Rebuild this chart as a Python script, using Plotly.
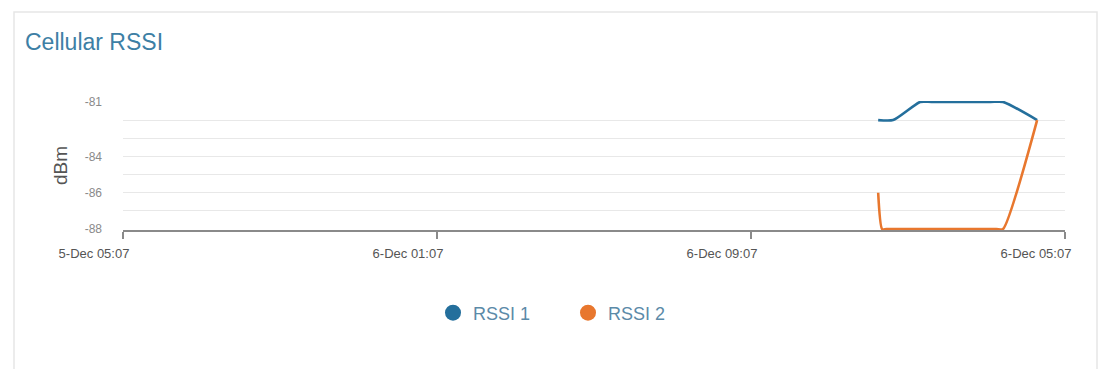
import plotly.graph_objects as go

# Hours elapsed since the start of the 24 h window, with RSSI readings in dBm
rssi1_hours = [19.24, 19.62, 20.31, 20.6, 22.1, 22.42, 23.29]
rssi1_dbm = [-82, -82, -81, -81, -81, -81, -82]

rssi2_hours = [19.24, 19.34, 19.45, 22.25, 22.42, 23.29]
rssi2_dbm = [-86, -88, -88, -88, -88, -82]

series_names = ["RSSI 1", "RSSI 2"]
series_colors = ["#246f9c", "#e8772e"]

# Axis ticks
x_tick_hours = [0, 8, 16, 24]
x_tick_labels = ["5-Dec 05:07", "6-Dec 01:07", "6-Dec 09:07", "6-Dec 05:07"]
y_tick_values = [-81, -82, -83, -84, -85, -86, -87, -88]
y_tick_labels = ["-81", "", "", "-84", "", "-86", "", "-88"]

W, H = 1102, 369
L, R, T, B = 123, W - 1065, 101, H - 230

fig = go.Figure()

for name, color, xs, ys in [
    (series_names[0], series_colors[0], rssi1_hours, rssi1_dbm),
    (series_names[1], series_colors[1], rssi2_hours, rssi2_dbm),
]:
    fig.add_trace(go.Scatter(
        x=xs, y=ys, mode="lines", name=name, legendgroup=name,
        showlegend=False,
        line=dict(color=color, width=2.6, shape="spline", smoothing=0.6),
        hovertemplate="%{y} dBm<extra>" + name + "</extra>",
    ))
    # legend entry drawn as a round marker
    fig.add_trace(go.Scatter(
        x=[None], y=[None], mode="markers", name=name, legendgroup=name,
        marker=dict(color=color, size=16, symbol="circle"),
    ))

PW, PH = W - L - R, H - T - B

# card outline
fig.add_shape(type="rect", xref="paper", yref="paper",
              x0=(14 - L) / PW, x1=(1097 - L) / PW,
              y0=(H - B - 400) / PH, y1=(H - B - 12) / PH,
              line=dict(color="#e6e6e6", width=1.5), fillcolor="rgba(0,0,0,0)",
              layer="below")

fig.update_layout(
    width=W, height=H,
    margin=dict(l=L, r=R, t=T, b=B, pad=0),
    paper_bgcolor="white", plot_bgcolor="white",
    font=dict(family="Liberation Sans, Arial, sans-serif", color="#666"),
    title=dict(text="Cellular RSSI", x=25 / W, xanchor="left", xref="container",
               y=1 - 42 / H, yanchor="middle", yref="container",
               font=dict(size=23, color="#3d7fa5")),
    showlegend=True,
    legend=dict(orientation="h", xref="paper", yref="paper",
                x=(433 - L) / PW, xanchor="left",
                y=(230 - 313) / PH, yanchor="middle",
                font=dict(size=18, color="#5b8aa8"),
                itemwidth=30, entrywidth=90, tracegroupgap=0,
                bgcolor="rgba(0,0,0,0)"),
    xaxis=dict(
        range=[0, 24], tickmode="array", tickvals=x_tick_hours, ticktext=x_tick_labels,
        showgrid=False, zeroline=False,
        showline=True, linecolor="#8a8a8a", linewidth=2,
        ticks="outside", ticklen=7, tickwidth=1.5, tickcolor="#8a8a8a",
        tickfont=dict(size=13, color="#555"), ticklabelshift=-29,
        ticklabelstandoff=3,
        fixedrange=True,
    ),
    yaxis=dict(
        range=[-88.05, -80.95], tickmode="array", tickvals=y_tick_values, ticktext=y_tick_labels,
        showgrid=True, gridcolor="#e8e8e8", gridwidth=1, zeroline=False,
        showline=False, ticks="", ticklabelstandoff=20,
        tickfont=dict(size=12, color="#8a8a8a"),
        title=dict(text="dBm", font=dict(size=19, color="#555"), standoff=12),
        fixedrange=True,
    ),
)

fig.write_html("out.html")
